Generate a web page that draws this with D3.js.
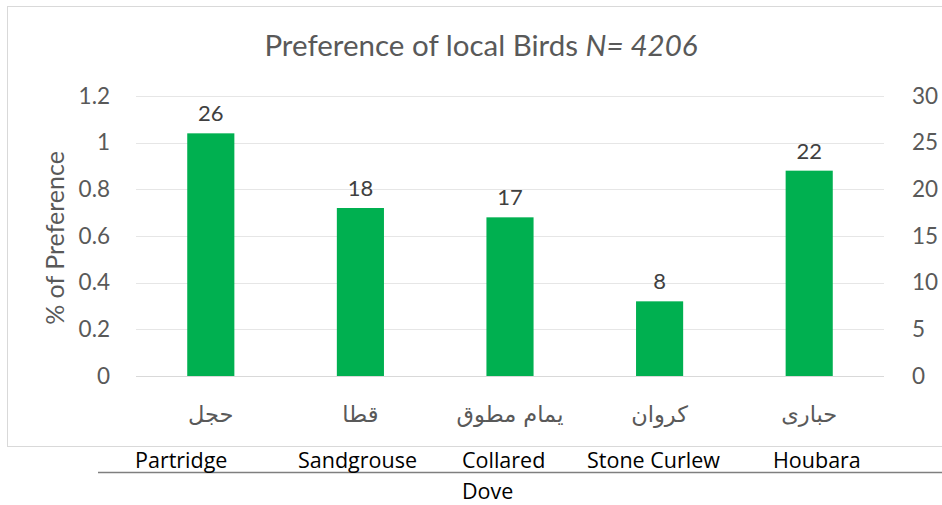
<!DOCTYPE html>
<html>
<head>
<meta charset="utf-8">
<script src="https://cdn.jsdelivr.net/npm/d3@7"></script>
<style>
  body { margin: 0; background: #fff; }
  svg { display: block; font-family: Lato, "Open Sans", sans-serif; }
</style>
</head>
<body>
<div id="chart"></div>
<script>
// Data
const categoriesAr = ["حجل", "قطا", "يمام مطوق", "كروان", "حبارى"];
const categoriesEn = [["Partridge"], ["Sandgrouse"], ["Collared", "Dove"], ["Stone Curlew"], ["Houbara"]];
const counts = [26, 18, 17, 8, 22];
const leftTicks = [0, 0.2, 0.4, 0.6, 0.8, 1, 1.2];
const rightTicks = [0, 5, 10, 15, 20, 25, 30];

const W = 942, H = 505;
const plot = { left: 136, right: 884, top: 96, bottom: 376 };

var svg = d3.select("#chart")
    .append("svg")
    .attr("width", W)
    .attr("height", H);

// Chart area border
svg.append("rect")
    .attr("x", 7.5).attr("y", 6.5)
    .attr("width", 940).attr("height", 440)
    .attr("fill", "none")
    .attr("stroke", "#d9d9d9");

// Title
var title = svg.append("text")
    .attr("x", 481).attr("y", 56)
    .attr("text-anchor", "middle")
    .style("font-size", "29.5px")
    .attr("fill", "#595959");
title.append("tspan").text("Preference of local Birds ");
title.append("tspan").style("font-style", "italic").text("N= 4206");

// Scales
var x = d3.scaleBand()
    .domain(d3.range(counts.length))
    .range([plot.left, plot.right])
    .paddingInner(0.685)
    .paddingOuter(0.3425);

var yLeft = d3.scaleLinear().domain([0, 1.2]).range([plot.bottom, plot.top]);
var yRight = d3.scaleLinear().domain([0, 30]).range([plot.bottom, plot.top]);

// Gridlines
svg.append("g")
    .selectAll("line")
    .data(leftTicks)
    .join("line")
    .attr("x1", plot.left).attr("x2", plot.right)
    .attr("y1", d => Math.round(yLeft(d)) + 0.5)
    .attr("y2", d => Math.round(yLeft(d)) + 0.5)
    .attr("stroke", d => d === 0 ? "#d9d9d9" : "#e6e6e6")
    .attr("stroke-width", 1);

// Left axis
var axL = svg.append("g")
    .attr("transform", "translate(" + (plot.left - 16) + ",0)")
    .call(d3.axisLeft(yLeft).tickValues(leftTicks).tickSize(0).tickPadding(10).tickFormat(d => String(d)));
axL.select(".domain").remove();
axL.selectAll("text").style("font-size", "22.5px").attr("fill", "#595959").style("font-family", "Lato, sans-serif");

// Right axis
var axR = svg.append("g")
    .attr("transform", "translate(" + (plot.right + 18) + ",0)")
    .call(d3.axisRight(yRight).tickValues(rightTicks).tickSize(0).tickPadding(10));
axR.select(".domain").remove();
axR.selectAll("text").style("font-size", "22.5px").attr("fill", "#595959").style("font-family", "Lato, sans-serif");

// Y axis label
svg.append("text")
    .attr("transform", "rotate(-90)")
    .attr("x", -(plot.top + plot.bottom) / 2 - 2)
    .attr("y", 64)
    .attr("text-anchor", "middle")
    .style("font-size", "25px")
    .attr("fill", "#595959")
    .text("% of Preference");

// Bars
svg.append("g")
    .selectAll("rect")
    .data(counts)
    .join("rect")
    .attr("x", (d, i) => x(i))
    .attr("width", x.bandwidth())
    .attr("y", d => yRight(d))
    .attr("height", d => yRight(0) - yRight(d))
    .attr("fill", "#00b050");

// Value labels
svg.append("g")
    .selectAll("text")
    .data(counts)
    .join("text")
    .attr("x", (d, i) => x(i) + x.bandwidth() / 2)
    .attr("y", d => yRight(d) - 12)
    .attr("text-anchor", "middle")
    .style("font-size", "22px")
    .attr("fill", "#404040")
    .text(d => d);

// Arabic category labels
svg.append("g")
    .selectAll("text")
    .data(categoriesAr)
    .join("text")
    .attr("x", (d, i) => x(i) + x.bandwidth() / 2)
    .attr("y", 422)
    .attr("text-anchor", "middle")
    .style("font-family", "'DejaVu Sans', sans-serif")
    .style("font-size", "22.5px")
    .attr("fill", "#595959")
    .text(d => d);

// English labels below the chart (left edges like sheet cells)
const enLeft = [135, 298, 462, 587, 773];
svg.append("line")
    .attr("x1", 98).attr("x2", W)
    .attr("y1", 472.5).attr("y2", 472.5)
    .attr("stroke", "#7f7f7f")
    .attr("stroke-width", 1.5);

var en = svg.append("g")
    .selectAll("text")
    .data(categoriesEn)
    .join("text")
    .attr("x", (d, i) => enLeft[i])
    .attr("y", 468)
    .style("font-family", "'Open Sans', sans-serif")
    .style("font-size", "21.5px")
    .attr("fill", "#000");
en.selectAll("tspan")
    .data(d => d)
    .join("tspan")
    .attr("x", function() { return this.parentNode.getAttribute("x"); })
    .attr("dy", (d, j) => j === 0 ? "0px" : "31px")
    .text(d => d);
</script>
</body>
</html>
